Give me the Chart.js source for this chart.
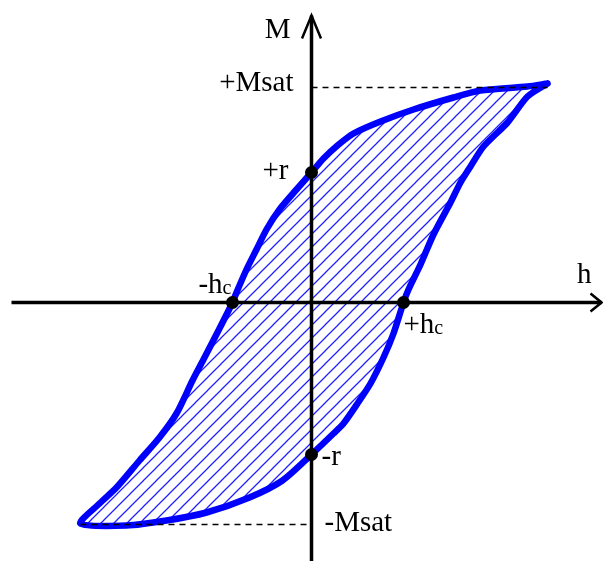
<!DOCTYPE html>
<html>
<head>
<meta charset="utf-8">
<script src="https://cdn.jsdelivr.net/npm/chart.js@4/dist/chart.umd.min.js"></script>
<style>
  body { margin: 0; background: #fff; }
  #wrap { width: 603px; height: 561px; position: relative; }
</style>
</head>
<body>
<div id="wrap"><canvas id="loopCanvas"></canvas></div>
<script>
// descending branch: from +Msat tip down to -Msat tip
const upperH = [2.36, 2.16, 1.69, 1.42, 1.02, 0.69, 0.42, 0.26, 0.12, 0, -0.15, -0.32, -0.45, -0.55, -0.65, -0.75, -0.79, -0.92, -1.07, -1.19, -1.35, -1.52, -1.72, -1.95, -2.12, -2.31];
const upperM = [2.19, 2.16, 2.12, 2.05, 1.93, 1.81, 1.69, 1.57, 1.44, 1.30, 1.13, 0.93, 0.73, 0.53, 0.33, 0.10, 0, -0.26, -0.55, -0.78, -1.11, -1.35, -1.58, -1.85, -2.01, -2.21];
// ascending branch: from -Msat tip back up to +Msat tip
const lowerH = [-2.31, -1.85, -1.45, -1.05, -0.62, -0.29, 0, 0.22, 0.32, 0.46, 0.59, 0.72, 0.82, 0.92, 0.97, 1.09, 1.22, 1.39, 1.49, 1.59, 1.72, 1.96, 2.16, 2.36];
const lowerM = [-2.21, -2.23, -2.18, -2.10, -1.95, -1.78, -1.52, -1.31, -1.21, -1.01, -0.81, -0.55, -0.31, 0, 0.13, 0.38, 0.68, 1.00, 1.20, 1.36, 1.56, 1.80, 2.06, 2.19];

const MsatPos = 2.15;
const MsatNeg = -2.22;
const remanence = [1.30, -1.52];
const coercive = [-0.79, 0.92];
const hTipMax = 2.36;
const hTipMin = -2.31;

const hAxis = [-3.0, 2.90];
const mAxis = [-2.59, 2.87];

function pts(xs, ys) {
  return xs.map((x, i) => ({ x: x, y: ys[i] }));
}

const loop = pts(upperH, upperM).concat(pts(lowerH, lowerM).slice(1));

const canvas = document.getElementById('loopCanvas');
const ctx = canvas.getContext('2d');

// diagonal hatching
function makeHatch() {
  const size = 13;
  const c = document.createElement('canvas');
  c.width = size;
  c.height = size;
  const g = c.getContext('2d');
  g.strokeStyle = '#1f1fff';
  g.lineWidth = 1.25;
  g.beginPath();
  g.moveTo(-1, size + 1);
  g.lineTo(size + 1, -1);
  g.moveTo(-2, 2);
  g.lineTo(2, -2);
  g.moveTo(size - 2, size + 2);
  g.lineTo(size + 2, size - 2);
  g.stroke();
  return ctx.createPattern(c, 'repeat');
}

// text labels anchored to the key points (offsets in px)
const labelPlugin = {
  id: 'labels',
  afterDraw(chart) {
    const x = chart.scales.x, y = chart.scales.y;
    const c = chart.ctx;
    const big = '29px "Liberation Serif", "Times New Roman", serif';
    const small = '20px "Liberation Serif", "Times New Roman", serif';
    c.save();
    c.fillStyle = '#000';
    c.textBaseline = 'alphabetic';

    function put(text, hx, my, dx, dy, align) {
      c.font = big;
      c.textAlign = align;
      c.fillText(text, x.getPixelForValue(hx) + dx, y.getPixelForValue(my) + dy);
    }
    function putSub(text, sub, hx, my, dx, dy, align) {
      c.font = big;
      const w1 = c.measureText(text).width;
      c.font = small;
      const w2 = c.measureText(sub).width;
      let left = x.getPixelForValue(hx) + dx;
      if (align === 'right') left -= (w1 + w2);
      const base = y.getPixelForValue(my) + dy;
      c.textAlign = 'left';
      c.font = big;
      c.fillText(text, left, base);
      c.font = small;
      c.fillText(sub, left + w1, base + 1);
    }

    put('M', 0, mAxis[1], -21, 22, 'right');
    put('h', hAxis[1], 0, -10, -20, 'right');
    put('+Msat', 0, MsatPos, -18, 3, 'right');
    put('-Msat', 0, MsatNeg, 13, 6, 'left');
    put('+r', 0, remanence[0], -23, 6, 'right');
    put('-r', 0, remanence[1], 10, 10, 'left');
    putSub('-h', 'c', coercive[0], 0, -1, -9.5, 'right');
    putSub('+h', 'c', coercive[1], 0, 0, 30, 'left');
    c.restore();
  }
};

const lineBase = { pointRadius: 0, showLine: true, clip: false, tension: 0, fill: false };

new Chart(ctx, {
  type: 'line',
  data: {
    datasets: [
      {
        label: 'key points',
        data: [
          { x: 0, y: remanence[0] }, { x: 0, y: remanence[1] },
          { x: coercive[0], y: 0 }, { x: coercive[1], y: 0 }
        ],
        showLine: false,
        pointRadius: 6.5,
        pointBackgroundColor: '#000',
        pointBorderWidth: 0,
        clip: false,
        order: 0
      },
      Object.assign({}, lineBase, {
        label: 'h axis',
        data: [{ x: hAxis[0], y: 0 }, { x: hAxis[1], y: 0 }],
        borderColor: '#000', borderWidth: 3.5, order: 1
      }),
      Object.assign({}, lineBase, {
        label: 'M axis',
        data: [{ x: 0, y: mAxis[0] }, { x: 0, y: mAxis[1] }],
        borderColor: '#000', borderWidth: 3.5, order: 1
      }),
      Object.assign({}, lineBase, {
        label: 'h arrow',
        data: [{ x: hAxis[1] - 0.11, y: 0.09 }, { x: hAxis[1], y: 0 }, { x: hAxis[1] - 0.11, y: -0.09 }],
        borderColor: '#000', borderWidth: 2.5, order: 1
      }),
      Object.assign({}, lineBase, {
        label: 'M arrow',
        data: [{ x: -0.095, y: mAxis[1] - 0.23 }, { x: 0, y: mAxis[1] }, { x: 0.095, y: mAxis[1] - 0.23 }],
        borderColor: '#000', borderWidth: 2.5, order: 1
      }),
      Object.assign({}, lineBase, {
        label: '+Msat',
        data: [{ x: 0, y: MsatPos }, { x: hTipMax, y: MsatPos }],
        borderColor: '#000', borderWidth: 1.3, borderDash: [6, 5], order: 2
      }),
      Object.assign({}, lineBase, {
        label: '-Msat',
        data: [{ x: hTipMin, y: MsatNeg }, { x: 0, y: MsatNeg }],
        borderColor: '#000', borderWidth: 1.3, borderDash: [6, 5], order: 2
      }),
      {
        label: 'hysteresis',
        data: loop,
        borderColor: '#0000ff',
        borderWidth: 6.5,
        borderCapStyle: 'round',
        borderJoinStyle: 'round',
        backgroundColor: makeHatch(),
        fill: 'shape',
        tension: 0.25,
        pointRadius: 0,
        clip: false,
        order: 3
      }
    ]
  },
  options: {
    responsive: true,
    maintainAspectRatio: false,
    animation: false,
    layout: { padding: 0, autoPadding: false },
    plugins: { legend: { display: false }, tooltip: { enabled: false } },
    scales: {
      x: { type: 'linear', min: -3.115, max: 2.915, display: false },
      y: { type: 'linear', min: -2.585, max: 3.025, display: false }
    }
  },
  plugins: [labelPlugin]
});
</script>
</body>
</html>
